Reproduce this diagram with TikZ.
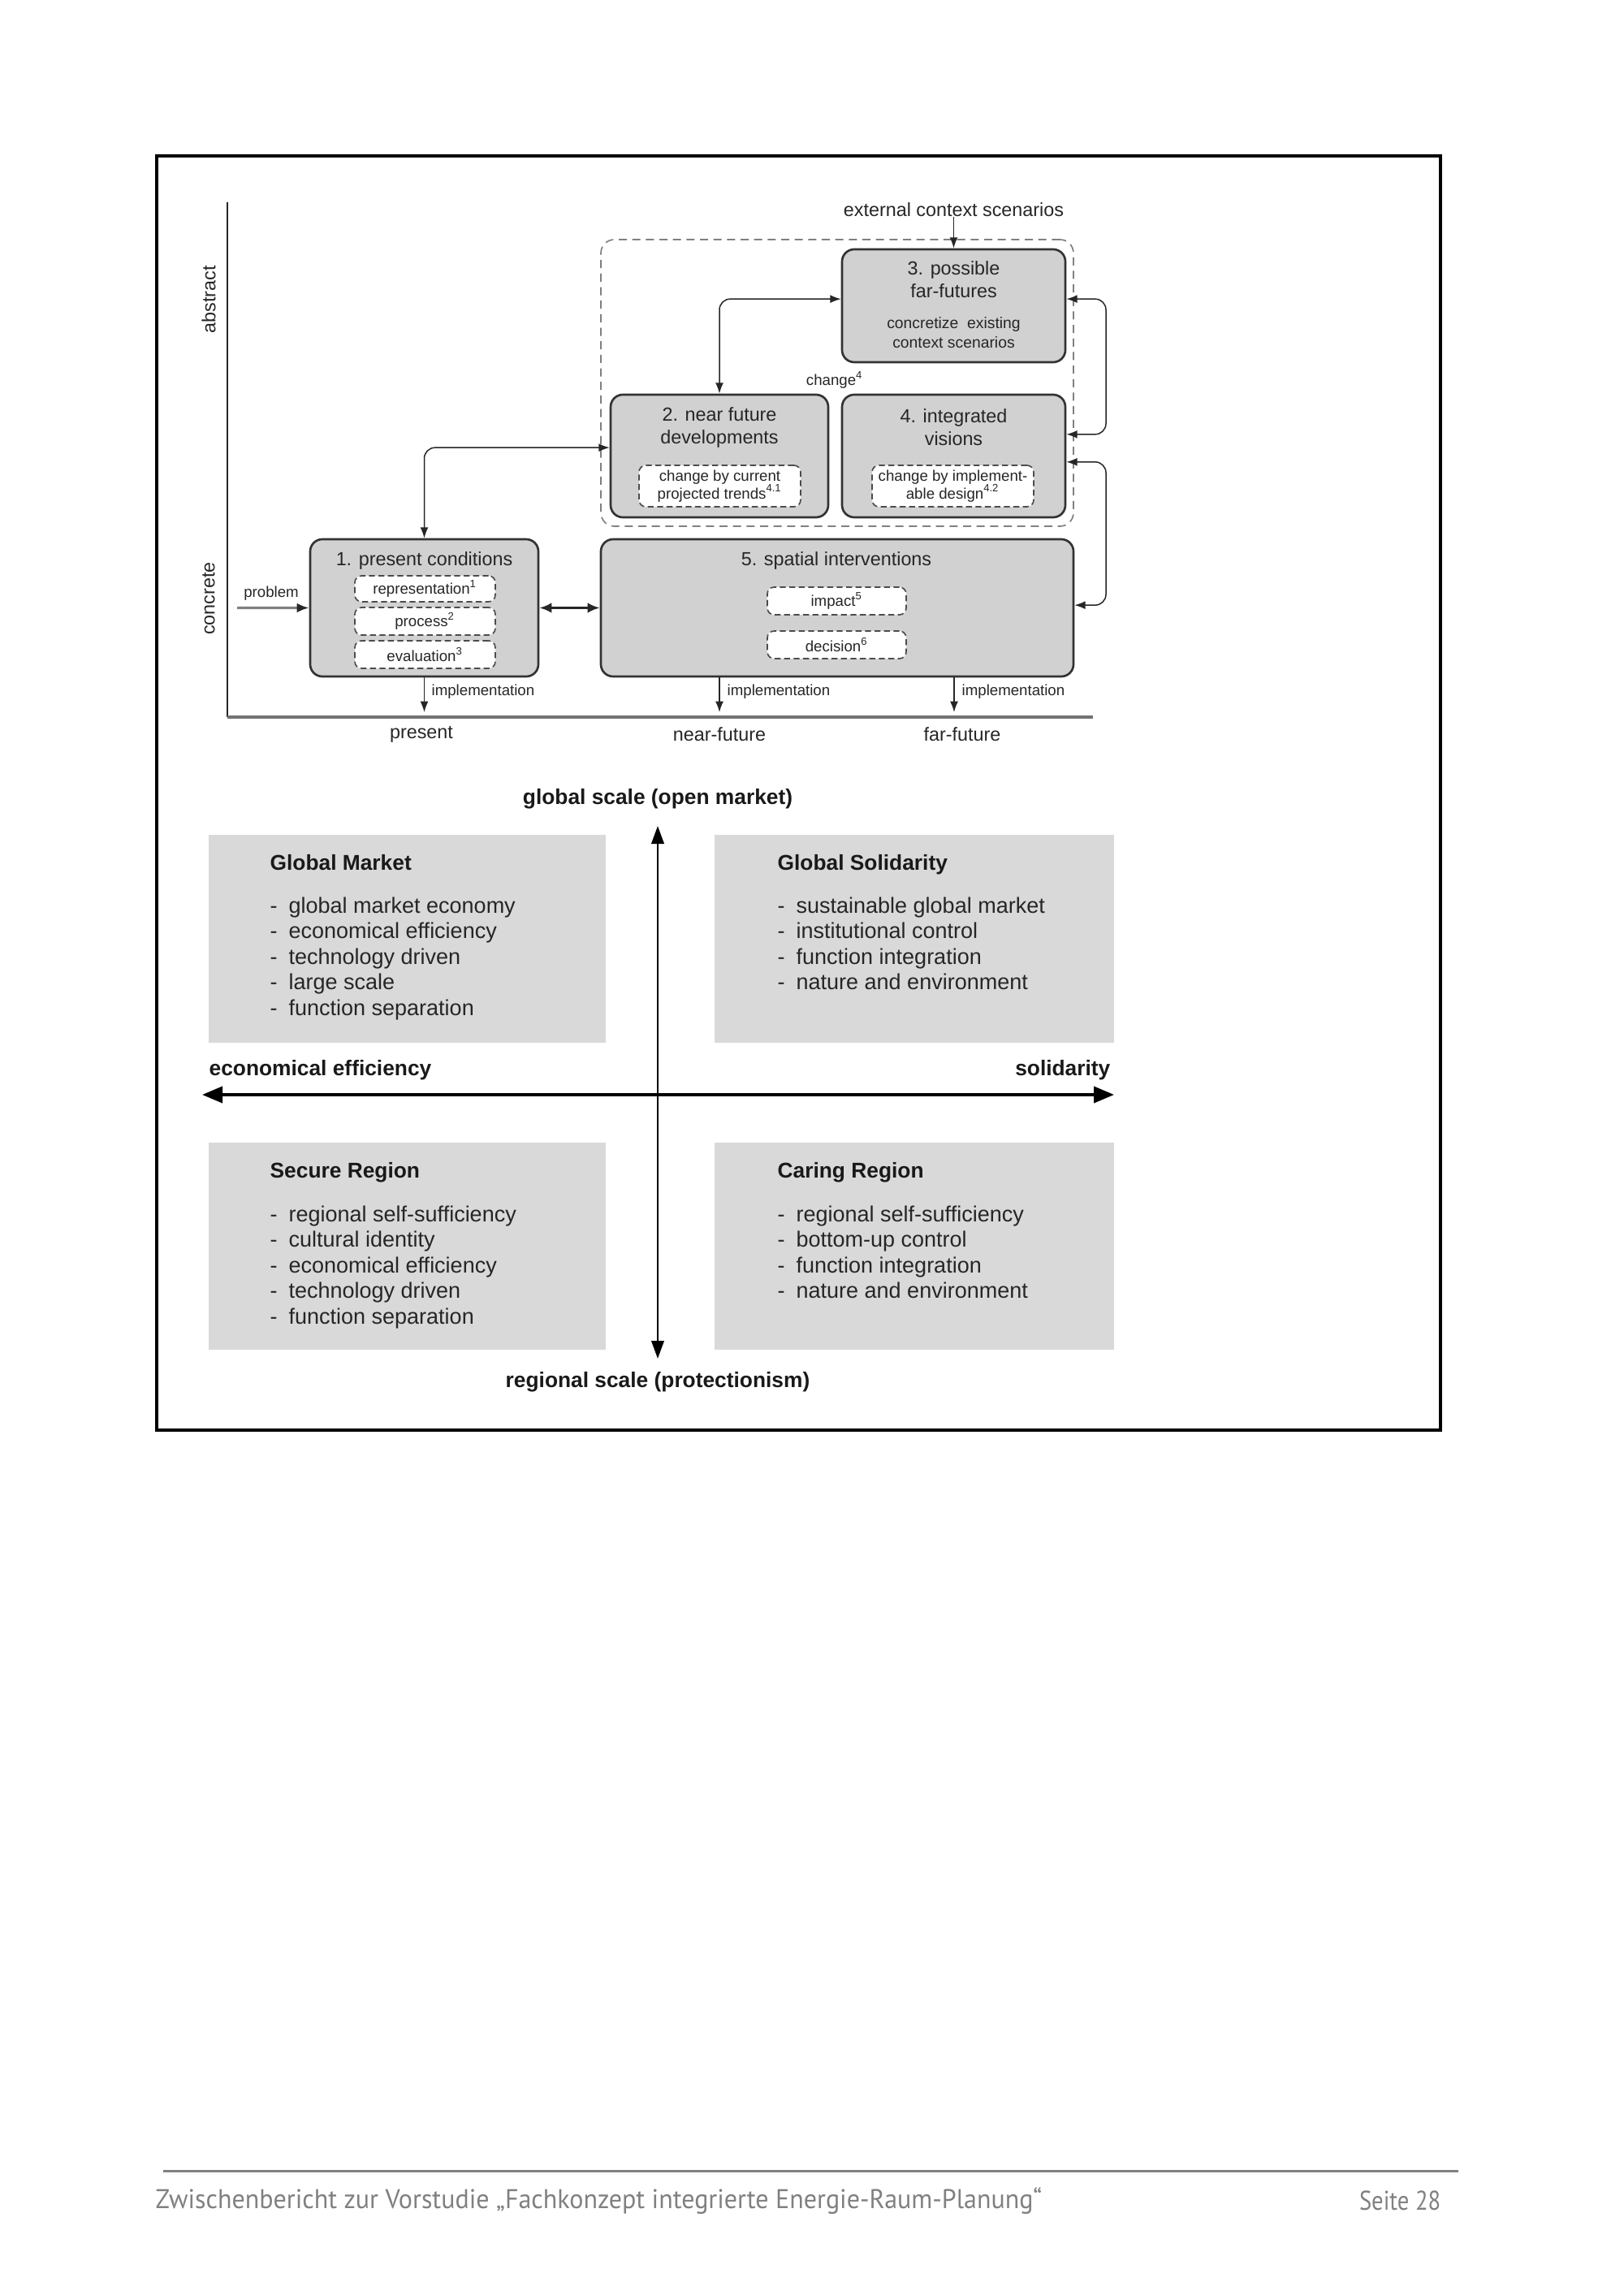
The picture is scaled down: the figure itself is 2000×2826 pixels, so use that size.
\documentclass[tikz,border=0pt]{standalone}
\usepackage{fontspec}
\setmainfont{Liberation Sans}
\newfontfamily\footfont[FakeStretch=0.96]{PT Sans}
\newfontfamily\pagefont[FakeStretch=0.86]{PT Sans}
\usetikzlibrary{arrows.meta,fit}
\newcommand\qdash{\makebox[6.9pt][l]{-}}
\newcommand\ftitle{\fontsize{7}{8.4}\selectfont}
\newcommand\fsmalltxt{\fontsize{5.6}{6.6}\selectfont}
\newcommand\fsmallb{\fontsize{5.8}{7.2}\selectfont}
\newcommand\fquad{\fontsize{8.1}{9.7}\selectfont}
\newcommand\fquadb{\fontsize{7.9}{9.5}\selectfont\bfseries}
\begin{document}
\begin{tikzpicture}[x=0.3pt,y=-0.3pt,
  procbox/.style={draw=black!80, line width=0.8pt, fill=black!18, rounded corners=4.5pt, inner sep=0pt},
  subbox/.style={draw=black!70, line width=0.5pt, dash pattern=on 2.2pt off 1.3pt, fill=white, rounded corners=2.5pt, inner sep=0pt},
  groupbox/.style={draw=black!50, line width=0.5pt, dash pattern=on 3pt off 2pt, rounded corners=5pt, inner sep=0pt},
  btitle/.style={font=\ftitle, text=black!85, align=center, inner sep=0pt},
  bsmall/.style={font=\fsmalltxt, text=black!85, align=center, inner sep=0pt},
  conn/.style={line width=0.45pt, draw=black!85, rounded corners=4pt, {Latex[length=4pt,width=3pt]}-{Latex[length=4pt,width=3pt]}},
  oneway/.style={line width=0.45pt, draw=black!85, -{Latex[length=4pt,width=3pt]}},
  qbox/.style={fill=black!15, inner sep=0pt},
  qtitle/.style={font=\fquadb, text=black!90, anchor=west, inner sep=0pt, text height=4.2pt, text depth=0pt},
  qitem/.style={font=\fquad, text=black!85, anchor=west, inner sep=0pt, text height=4.2pt, text depth=0pt},
  qhead/.style={font=\fquadb, text=black!90, inner sep=0pt, text height=4.2pt, text depth=0pt},
  qarrow/.style={line width=1.1pt, draw=black, {Triangle[length=7.5pt,width=6pt]}-{Triangle[length=7.5pt,width=6pt]}},
  vqarrow/.style={line width=0.8pt, draw=black, {Triangle[length=6.6pt,width=4.6pt]}-{Triangle[length=6.6pt,width=4.6pt]}}
]
\useasboundingbox (0,0) rectangle (2000,2826);

% frame
\node[draw=black, line width=1pt, inner sep=0pt, fit={(193,192)(1774,1761)}] (frame) {};

% axes of upper diagram
\coordinate (ytop) at (280,249);
\coordinate (orig) at (280,883);
\coordinate (xend) at (1346,883);
\draw[line width=0.5pt, black!85] (ytop) -- (orig);
\draw[line width=1.3pt, black!55] (orig) -- (xend);
\node[btitle, rotate=90] (abs) at (257,369) {abstract};
\node[btitle, rotate=90] (con) at (257,737) {concrete};

% boxes
\node[groupbox, fit={(740,295)(1322,648)}] (grp) {};
\node[procbox, fit={(1037,307)(1312,446)}] (b3) {};
\node[procbox, fit={(752,486)(1020,637)}] (b2) {};
\node[procbox, fit={(1037,486)(1312,637)}] (b4) {};
\node[procbox, fit={(382,664)(663,833)}] (b1) {};
\node[procbox, fit={(740,664)(1322,833)}] (b5) {};
\node[subbox, fit={(787,573)(986,624)}] (b2s) {};
\node[subbox, fit={(1074,573)(1273,624)}] (b4s) {};
\node[subbox, fit={(437,709)(610,741)}] (b1a) {};
\node[subbox, fit={(437,748)(610,782)}] (b1b) {};
\node[subbox, fit={(437,789)(610,823)}] (b1c) {};
\node[subbox, fit={(945,723)(1116,757)}] (b5a) {};
\node[subbox, fit={(945,777)(1116,811)}] (b5b) {};

% texts
\node[btitle] (ext) at (1174.5,258) {external context scenarios};
\node[btitle] (b3t) at (1174.5,344) {3. possible\\far-futures};
\node[bsmall, font=\fsmallb] (b3s) at (1174.5,410) {concretize\ \ existing\\context scenarios};
\node[btitle] (b2t) at (886,526.5) {2. near future\\developments};
\node[bsmall] (b2st) at (b2s) {change by current\\projected trends\textsuperscript{4.1}};
\node[btitle] (b4t) at (1174.5,526.5) {4. integrated\\visions};
\node[bsmall] (b4st) at (b4s) {change by implement-\\able design\textsuperscript{4.2}};
\node[btitle] (b1t) at (522.5,690) {1. present conditions};
\node[bsmall] (b1at) at (b1a) {representation\textsuperscript{1}};
\node[bsmall] (b1bt) at (b1b) {process\textsuperscript{2}};
\node[bsmall] (b1ct) at (b1c) {evaluation\textsuperscript{3}};
\node[btitle] (b5t) at (1030,690) {5. spatial interventions};
\node[bsmall] (b5at) at (b5a) {impact\textsuperscript{5}};
\node[bsmall] (b5bt) at (b5b) {decision\textsuperscript{6}};
\node[bsmall] (chg) at (1028,468) {change\textsuperscript{4}};

% connectors
\draw[oneway] (ext) -- (b3);
\draw[conn] (b2.north) |- ([yshift=2.5pt]b3.west);
\draw[conn] (b1.north) |- ([yshift=3.1pt]b2.west);
\coordinate (lp1) at (1362,450);
\coordinate (lp2) at (1362,657);
\draw[conn] ([yshift=2.5pt]b3.east) -| (lp1) |- ([yshift=8pt]b4.east);
\draw[conn] ([yshift=-2.2pt]b4.east) -| (lp2) |- ([yshift=1pt]b5.east);

\coordinate (prob) at (292,748.5);
\draw[line width=1pt, black!50, -{Latex[length=4.5pt,width=3.5pt,color=black!85]}] (prob) -- (b1.west);
\node[bsmall] (probt) at (334,731) {problem};
\draw[line width=1pt, black!85, {Latex[length=4.5pt,width=3.8pt]}-{Latex[length=4.5pt,width=3.8pt]}] (b1.east) -- (b5.west);

\coordinate (i1) at (522.5,877);
\coordinate (i2) at (886,877);
\coordinate (i3) at (1175,877);
\draw[oneway] (b1.south) -- (i1);
\draw[oneway] (b5.south -| i2) -- (i2);
\draw[oneway] (b5.south -| i3) -- (i3);
\node[bsmall, anchor=west] (im1) at (531,852) {implementation};
\node[bsmall, anchor=west] (im2) at (895,852) {implementation};
\node[bsmall, anchor=west] (im3) at (1184,852) {implementation};

\node[btitle] (tp) at (519,904) {present};
\node[btitle] (tn) at (886,904) {near-future};
\node[btitle] (tf) at (1185,904) {far-future};

% quadrant diagram
\node[qbox, fit={(257,1028)(746,1284)}] (gm) {};
\node[qbox, fit={(880,1028)(1372,1284)}] (gs) {};
\node[qbox, fit={(257,1407)(746,1662)}] (sr) {};
\node[qbox, fit={(880,1407)(1372,1662)}] (cr) {};
\coordinate (vt) at (810,1017);
\coordinate (vb) at (810,1673);
\coordinate (hl) at (249,1348);
\coordinate (hr) at (1372,1348);
\draw[qarrow] (hl) -- (hr);
\draw[vqarrow] (vt) -- (vb);
\node[qhead] (gsc) at (810,983) {global scale (open market)};
\node[qhead] (rsc) at (810,1701) {regional scale (protectionism)};
\node[qhead, anchor=west] (ee) at (257,1317) {economical efficiency};
\node[qhead, anchor=east] (sol) at (1368,1317) {solidarity};

\node[qtitle] (gmt) at (332,1064) {Global Market};
\foreach \t [count=\i] in {global market economy, economical efficiency, technology driven, large scale, function separation}
  \node[qitem] (gm\i) at (332,{1117+31.5*(\i-1)}) {\qdash\t};
\node[qtitle] (gst) at (957,1064) {Global Solidarity};
\foreach \t [count=\i] in {sustainable global market, institutional control, function integration, nature and environment}
  \node[qitem] (gs\i) at (957,{1117+31.5*(\i-1)}) {\qdash\t};
\node[qtitle] (srt) at (332,1443) {Secure Region};
\foreach \t [count=\i] in {regional self-sufficiency, cultural identity, economical efficiency, technology driven, function separation}
  \node[qitem] (sr\i) at (332,{1497+31.5*(\i-1)}) {\qdash\t};
\node[qtitle] (crt) at (957,1443) {Caring Region};
\foreach \t [count=\i] in {regional self-sufficiency, bottom-up control, function integration, nature and environment}
  \node[qitem] (cr\i) at (957,{1497+31.5*(\i-1)}) {\qdash\t};

% footer
\coordinate (fa) at (201,2673);
\coordinate (fb) at (1796,2673);
\draw[black!50, line width=0.9pt] (fa) -- (fb);
\node[anchor=west, inner sep=0pt, text=black!50, font=\footfont\fontsize{10}{12}\selectfont] (foot) at (191,2710) {Zwischenbericht zur Vorstudie „Fachkonzept integrierte Energie-Raum-Planung“};
\node[anchor=east, inner sep=0pt, text=black!50, font=\pagefont\fontsize{10}{12}\selectfont] (page) at (1775,2710) {Seite 28};
\end{tikzpicture}
\end{document}
